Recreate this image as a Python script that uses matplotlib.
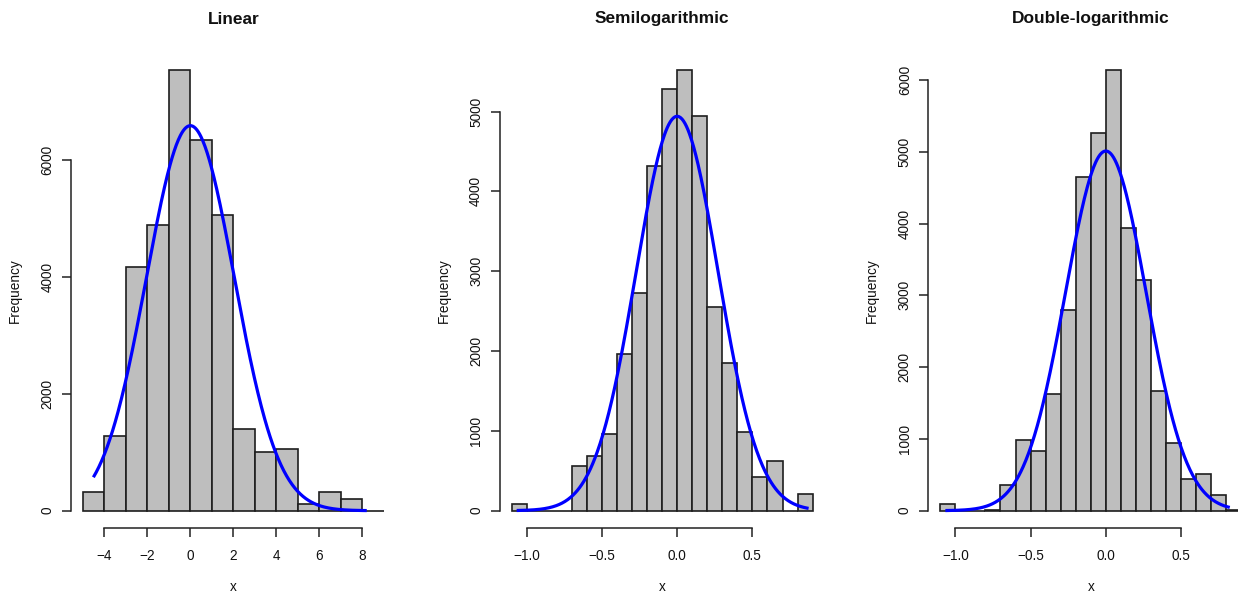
import numpy as np
import matplotlib
matplotlib.use("Agg")
import matplotlib.pyplot as plt

plt.rcParams['font.family'] = ['Liberation Sans', 'DejaVu Sans']

# ---------------- data ----------------
titles = ["Linear", "Semilogarithmic", "Double-logarithmic"]

lin_breaks = [-5, -4, -3, -2, -1, 0, 1, 2, 3, 4, 5, 6, 7, 8, 9]
lin_counts = [325, 1282, 4166, 4883, 7528, 6337, 5049, 1396, 1003, 1060, 114, 319, 195, 0]

semi_breaks = [-1.1, -1.0, -0.9, -0.8, -0.7, -0.6, -0.5, -0.4, -0.3, -0.2, -0.1,
               0.0, 0.1, 0.2, 0.3, 0.4, 0.5, 0.6, 0.7, 0.8, 0.9]
semi_counts = [88, 0, 0, 0, 564, 689, 961, 1967, 2728, 4315, 5280,
               5518, 4942, 2552, 1846, 990, 426, 618, 0, 209]

dlog_breaks = semi_breaks
dlog_counts = [93, 0, 0, 10, 358, 989, 827, 1626, 2791, 4645, 5258,
               6136, 3934, 3209, 1672, 943, 441, 511, 218, 5]

# normal-fit curves: mean, sd, x-range
lin_fit = dict(mean=0.0, sd=2.04, xmin=-4.51, xmax=8.2)
semi_fit = dict(mean=0.0, sd=0.272, xmin=-1.066, xmax=0.873)
dlog_fit = dict(mean=0.0, sd=0.268, xmin=-1.066, xmax=0.823)

lin_xticks = [-4, -2, 0, 2, 4, 6, 8]
lin_xticklabels = ["\u22124", "\u22122", "0", "2", "4", "6", "8"]
log_xticks = [-1.0, -0.5, 0.0, 0.5]
log_xticklabels = ["\u22121.0", "\u22120.5", "0.0", "0.5"]
lin_yticks = [0, 2000, 4000, 6000]
semi_yticks = [0, 1000, 2000, 3000, 4000, 5000]
dlog_yticks = [0, 1000, 2000, 3000, 4000, 5000, 6000]

panels = [
    (lin_breaks, lin_counts, lin_fit, lin_xticks, lin_xticklabels, lin_yticks),
    (semi_breaks, semi_counts, semi_fit, log_xticks, log_xticklabels, semi_yticks),
    (dlog_breaks, dlog_counts, dlog_fit, log_xticks, log_xticklabels, dlog_yticks),
]

# ---------------- layout ----------------
W, H = 1238, 599
fig = plt.figure(figsize=(W / 100, H / 100), dpi=100)
fig.patch.set_facecolor('white')

ax_top_px, ax_bot_px = 52.7, 528.3
ax_w_px = 325.2
lefts_px = [70.8, 499.5, 928.2]

fs_tick = 9.8
fs_lab = 9.8
fs_title = 12.4
axcol = '#222222'

for i, (breaks, counts, fit, xt, xtl, yt) in enumerate(panels):
    ax = fig.add_axes([lefts_px[i] / W, (H - ax_bot_px) / H, ax_w_px / W, (ax_bot_px - ax_top_px) / H])
    breaks = np.array(breaks, dtype=float)
    counts = np.array(counts, dtype=float)
    widths = np.diff(breaks)
    ax.bar(breaks[:-1], counts, width=widths, align='edge', color='#bebebe',
           edgecolor='#1e1e1e', linewidth=1.2, zorder=2)

    # fitted normal curve scaled to counts
    n = counts.sum()
    bw = widths[0]
    xs = np.linspace(fit['xmin'], fit['xmax'], 400)
    ys = n * bw * np.exp(-0.5 * ((xs - fit['mean']) / fit['sd']) ** 2) / (fit['sd'] * np.sqrt(2 * np.pi))
    ax.plot(xs, ys, color='#0000ff', linewidth=2.3, zorder=3, solid_capstyle='butt')

    # R-style limits (4% extension)
    xr = breaks[-1] - breaks[0]
    ax.set_xlim(breaks[0] - 0.04 * xr, breaks[-1] + 0.04 * xr)
    ymax = counts.max()
    ax.set_ylim(-0.04 * ymax, 1.04 * ymax)

    for s in ['top', 'right']:
        ax.spines[s].set_visible(False)
    for s in ['left', 'bottom']:
        ax.spines[s].set_color(axcol)
        ax.spines[s].set_linewidth(1.1)
    ax.spines['left'].set_bounds(yt[0], yt[-1])
    ax.spines['bottom'].set_bounds(xt[0], xt[-1])

    ax.set_xticks(xt)
    ax.set_xticklabels(xtl)
    ax.set_yticks(yt)
    ax.set_yticklabels([str(v) for v in yt])
    ax.tick_params(axis='both', direction='out', length=6.3, width=1.1, color=axcol,
                   labelsize=fs_tick, labelcolor='#111111')
    ax.tick_params(axis='x', pad=8.5)
    ax.tick_params(axis='y', pad=5.5, labelrotation=90)
    for lab in ax.get_yticklabels():
        lab.set_verticalalignment('center')

    ax.set_xlabel('x', fontsize=fs_lab, color='#111111')
    ax.xaxis.set_label_coords(0.5, -(587 - ax_bot_px) / (ax_bot_px - ax_top_px))
    ax.xaxis.label.set_verticalalignment('center')
    ax.set_ylabel('Frequency', fontsize=fs_lab, color='#111111')
    ylab_x_px = [14.5, 443.5, 871.5][i]
    ax.yaxis.set_label_coords((ylab_x_px - lefts_px[i]) / ax_w_px, 0.5)
    ax.yaxis.label.set_verticalalignment('center')

    ax.text(0.5, 1 + (ax_top_px - 19) / (ax_bot_px - ax_top_px), titles[i],
            transform=ax.transAxes, ha='center', va='center',
            fontsize=fs_title, fontweight='bold', color='#111111')
    ax.set_facecolor('none')

fig.savefig('out.png', dpi=100, facecolor='white')
